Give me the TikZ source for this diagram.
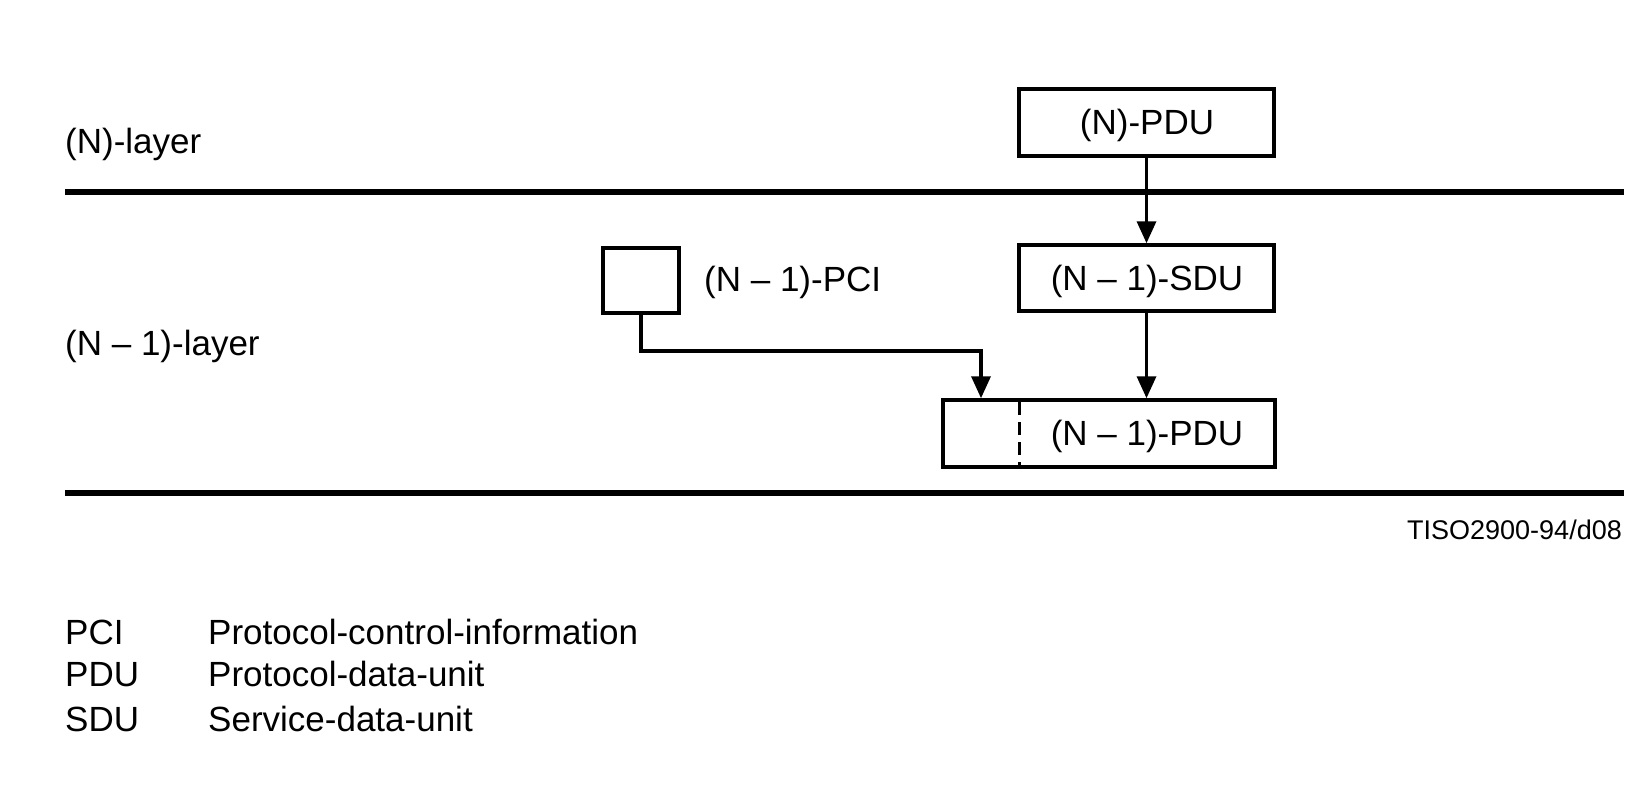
\documentclass[tikz,border=0pt]{standalone}
\usepackage{fontspec}
\setmainfont{Liberation Sans}
\usetikzlibrary{arrows.meta}
\begin{document}
\begin{tikzpicture}[x=1pt,y=-1pt,
  txt/.style={font=\fontsize{35}{40}\selectfont, inner sep=0pt},
  box/.style={draw, line width=3.5pt, inner sep=0pt, font=\fontsize{35}{40}\selectfont},
  layerline/.style={line width=5.5pt},
  conn/.style={line width=3.5pt, -{Triangle[length=22pt,width=19pt]}}
]
\useasboundingbox (0,0) rectangle (1648,801);
% layer lines
\coordinate (l1a) at (65,192);
\coordinate (l1b) at (1624,192);
\coordinate (l2a) at (65,493);
\coordinate (l2b) at (1624,493);
\draw[layerline] (l1a) -- (l1b);
\draw[layerline] (l2a) -- (l2b);
% layer labels
\node[txt, anchor=west] (nlayer) at (65,144) {(N)-layer};
\node[txt, anchor=west] (n1layer) at (65,346) {(N – 1)-layer};
% boxes
\node[box, minimum width=255pt, minimum height=67pt] (npdu) at (1146.5,122.5) {};
\node[txt] (npdulabel) at (1147,125) {(N)-PDU};
\node[box, minimum width=255pt, minimum height=66pt] (sdu) at (1146.5,278) {};
\node[txt] (sdulabel) at (1147,281) {(N – 1)-SDU};
\node[box, minimum width=76pt, minimum height=65pt] (pci) at (641,280.5) {};
\node[txt, anchor=west] (pcilabel) at (704,282) {(N – 1)-PCI};
\node[box, minimum width=332pt, minimum height=67pt] (pdu) at (1109,433.5) {};
\node[txt] (pdulabel) at (1147,436) {(N – 1)-PDU};
\draw[line width=3pt, dash pattern=on 13pt off 7pt] (1019,402) -- (1019,465);
% connectors
\coordinate (bend) at (981,351);
\draw[conn] (npdu.south) -- (sdu.north);
\draw[conn] (sdu.south) -- (pdu.north -| sdu.south);
\draw[conn] (pci.south) |- (bend) -- (bend |- pdu.north);
% reference code
\node[font=\fontsize{27}{30}\selectfont, inner sep=0pt, anchor=east] (code) at (1622,530) {TISO2900-94/d08};
% legend
\node[txt, anchor=base west] (k1) at (65,644) {PCI};
\node[txt, anchor=base west] (k2) at (65,686) {PDU};
\node[txt, anchor=base west] (k3) at (65,731) {SDU};
\node[txt, anchor=base west] (d1) at (208,644) {Protocol-control-information};
\node[txt, anchor=base west] (d2) at (208,686) {Protocol-data-unit};
\node[txt, anchor=base west] (d3) at (208,731) {Service-data-unit};
\end{tikzpicture}
\end{document}
